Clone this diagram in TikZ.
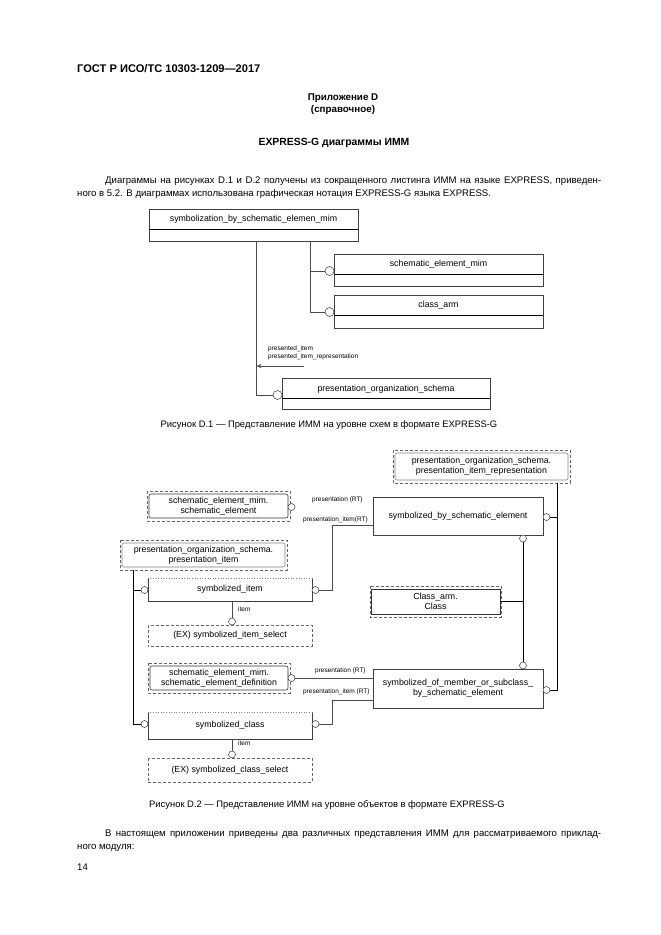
\documentclass[tikz,border=0pt]{standalone}
\usepackage{fontspec}
\setmainfont{Liberation Sans}
\usetikzlibrary{calc,arrows.meta}
\newcommand{\fsz}[1]{\fontsize{#1}{#1}\selectfont}
\begin{document}
\begin{tikzpicture}[x=1pt,y=-1pt,
  body/.style={font=\fsz{9.4}, inner sep=0pt},
  para/.style={font=\fsz{9.6}, inner sep=0pt, anchor=base west},
  bodyb/.style={font=\bfseries\fsz{9.8}, inner sep=0pt},
  ebox/.style={draw=black!75, line width=0.5pt, inner sep=0pt},
  etxt/.style={font=\fsz{8.8}, inner sep=0pt, align=center},
  lbl/.style={font=\fsz{6.5}, inner sep=0pt, anchor=west},
  circA/.style={circle, draw=black!80, fill=white, line width=0.5pt, minimum size=9pt, inner sep=0pt},
  circB/.style={circle, draw=black!80, fill=white, line width=0.5pt, minimum size=7pt, inner sep=0pt},
  conA/.style={draw=black!70, line width=0.5pt},
  conB/.style={draw=black, line width=0.8pt},
  dbox/.style={draw=black!60, dash pattern=on 3pt off 2pt, line width=0.6pt},
  ibox/.style={draw=black!80, rounded corners=2pt, line width=0.6pt, inner sep=0pt, font=\fsz{8.8}, align=center}
]
\useasboundingbox (0,0) rectangle (661,935);
\fill[white] (0,0) rectangle (661,935);

% ---------- header text ----------
\node[bodyb, anchor=base west, font=\bfseries\fsz{11.1}] (hdr) at (77,72) {ГОСТ Р ИСО/ТС 10303-1209—2017};
\node[bodyb] (app) at (343,98) {Приложение D};
\node[bodyb] (ref) at (343,110) {(справочное)};
\node[bodyb, font=\bfseries\fsz{10.4}] (ttl) at (334,143) {EXPRESS-G диаграммы ИММ};
\node[para] (p1) at (105,183) {\makebox[496pt][s]{Диаграммы на рисунках D.1 и D.2 получены из сокращенного листинга ИММ на языке EXPRESS, приведен-}};
\node[para] (p2) at (77,196) {ного в 5.2. В диаграммах использована графическая нотация EXPRESS-G языка EXPRESS.};

% ---------- Figure D.1 ----------
\node[ebox, minimum width=209pt, minimum height=32pt] (A) at (253.5,225) {};
\draw[line width=1pt] (149,229) -- (358,229);
\node[etxt] (At) at (253.5,219) {symbolization\_by\_schematic\_elemen\_mim};

\node[ebox, minimum width=209pt, minimum height=32pt] (B) at (438.5,270) {};
\draw[line width=1pt] (334,274) -- (543,274);
\node[etxt] (Bt) at (438.5,264) {schematic\_element\_mim};

\node[ebox, minimum width=209pt, minimum height=33pt] (C) at (438.5,311.5) {};
\draw[line width=1pt] (334,315) -- (543,315);
\node[etxt] (Ct) at (438.5,305) {class\_arm};

\node[ebox, minimum width=208pt, minimum height=31pt] (D) at (386,393.5) {};
\draw[line width=1pt] (282,398) -- (490,398);
\node[etxt] (Dt) at (386,389) {presentation\_organization\_schema};

\node[circA] (cB) at (329.5,271) {};
\node[circA] (cC) at (329.5,312) {};
\node[circA] (cD) at (277.5,395) {};

\coordinate (a1) at (256,241);
\coordinate (a2) at (310,241);
\draw[conA] (a1) |- (cD.west);
\draw[conA] (a2) |- (cC.west);
\draw[conA] (cB.west) -- (cB.west -| a2);

\coordinate (arS) at (304,366);
\coordinate (arE) at (256.5,366);
\draw[conA, -{Stealth[length=5pt,width=4pt]}] (arS) -- (arE);
\node[lbl] (l1) at (268,349) {presented\_item};
\node[lbl] (l2) at (268,356.5) {presented\_item\_representation};

\node[body] (cap1) at (329,425) {Рисунок D.1 — Представление ИММ на уровне схем в формате EXPRESS-G};

% ---------- Figure D.2 ----------
% E
\node[ibox, draw=black!50, minimum width=173pt, minimum height=27pt] (E) at (481.5,466.5) {presentation\_organization\_schema.\\[1pt]presentation\_item\_representation};
\draw[dbox] (393,450) rectangle (570,483);
% F
\node[ibox, minimum width=139pt, minimum height=24pt] (F) at (218.5,506) {schematic\_element\_mim.\\[1pt]schematic\_element};
\draw[dbox] (147,491) rectangle (290,521);
\node[circB] (cF) at (291.5,507) {};
\node[lbl] (lF1) at (312,500) {presentation (RT)};
\node[lbl] (lF2) at (303,520) {presentation\_item(RT)};
% G
\node[ebox, etxt, minimum width=170pt, minimum height=38pt] (G) at (458,516) {symbolized\_by\_schematic\_element};
\node[circB] (cGr) at (546.5,517) {};
\node[circB] (cGb) at (523,538.5) {};
% H
\node[ibox, draw=black!50, minimum width=163pt, minimum height=24pt] (H) at (203.5,555) {presentation\_organization\_schema.\\[1pt]presentation\_item};
\draw[dbox] (120,540) rectangle (287,570);
% I symbolized_item
\node[etxt, minimum width=164pt, minimum height=23pt] (I) at (230,589.5) {symbolized\_item};
\draw[ebox] (I.north west) -- (I.south west) -- (I.south east) -- (I.north east);
\draw[black!50, dotted, line width=0.6pt] (I.north west) -- (I.north east);
\node[circB] (cIl) at (144.5,590) {};
\node[circB] (cIr) at (315.5,590) {};
\node[circB] (cIb) at (232,621.5) {};
\node[lbl] (lI) at (238,609) {item};
% J
\node[etxt, minimum width=164pt, minimum height=21pt] (J) at (230,635.5) {(EX) symbolized\_item\_select};
\draw[dbox] (J.north west) rectangle (J.south east);
% Class_arm.Class
\node[ibox, rounded corners=0pt, line width=0.9pt, minimum width=129pt, minimum height=25pt] (Cl) at (435.5,601.5) {Class\_arm.\\[1pt]Class};
\draw[dbox] (370,586) rectangle (501,617);
% L
\node[ibox, minimum width=138pt, minimum height=24pt] (L) at (219,678) {schematic\_element\_mim.\\[1pt]schematic\_element\_definition};
\draw[dbox] (148,663) rectangle (290,693);
\node[circB] (cL) at (291.5,678) {};
\node[lbl] (lL1) at (315,671) {presentation (RT)};
\node[lbl] (lL2) at (303,692) {presentation\_item (RT)};
% M
\node[ebox, etxt, minimum width=170pt, minimum height=39pt] (M) at (458,688.5) {symbolized\_of\_member\_or\_subclass\_\\[1pt]by\_schematic\_element};
\node[circB] (cMt) at (523,665.5) {};
\node[circB] (cMr) at (546.5,690) {};
% K symbolized_class
\node[etxt, minimum width=164pt, minimum height=27pt] (K) at (230,725.5) {symbolized\_class};
\draw[ebox] (K.north west) -- (K.south west) -- (K.south east) -- (K.north east);
\draw[black!50, dotted, line width=0.6pt] (K.north west) -- (K.north east);
\node[circB] (cKl) at (144.5,724) {};
\node[circB] (cKr) at (315.5,724) {};
\node[circB] (cKb) at (232,754.5) {};
\node[lbl] (lK) at (238,743) {item};
% N
\node[etxt, minimum width=164pt, minimum height=24pt] (N) at (230,770) {(EX) symbolized\_class\_select};
\draw[dbox] (N.north west) rectangle (N.south east);

% connectors D.2
\coordinate (rv1) at (557,483);
\coordinate (rv2) at (557,690);
\draw[conB] (rv1) -- (rv2) -- (cMr.east);
\draw[conB] (cGr.east) -- (cGr.east -| rv1);
\draw[conB] (cGb.south) -- (cMt.north);
\draw[conB] (Cl.east) -- (Cl.east -| cGb);
\coordinate (lv1) at (133,570);
\draw[conB] (lv1) |- (cKl.west);
\draw[conB] (cIl.west) -- (cIl.west -| lv1);
\coordinate (g1) at (373,525);
\coordinate (g2) at (332,525);
\draw[conA] (g1) -- (g2) |- (cIr.east);
\coordinate (m1) at (373,700);
\coordinate (m2) at (332,700);
\draw[conA] (m1) -- (m2) |- (cKr.east);
\draw[conA] (cL.east) -- (cL.east -| M.west);
\draw[conA] (I.south -| cIb) -- (cIb.north);
\draw[conA] (K.south -| cKb) -- (cKb.north);

\node[body] (cap2) at (327,805) {Рисунок D.2 — Представление ИММ на уровне объектов в формате EXPRESS-G};
\node[para] (q1) at (105,836) {\makebox[496pt][s]{В настоящем приложении приведены два различных представления ИММ для рассматриваемого приклад-}};
\node[para] (q2) at (77,849) {ного модуля:};
\node[para] (pg) at (77,870) {14};
\end{tikzpicture}
\end{document}
